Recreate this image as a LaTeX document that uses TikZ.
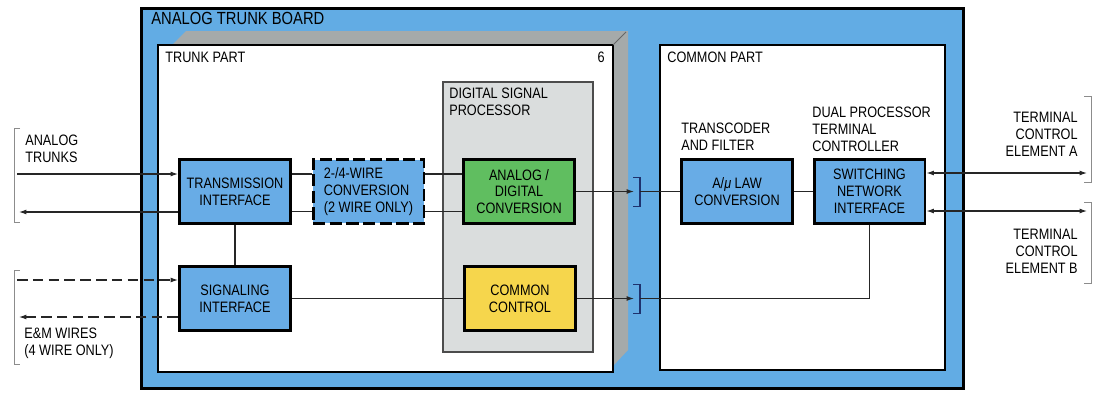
\documentclass[tikz,border=0pt]{standalone}
\usepackage{fontspec}
\setmainfont{Liberation Sans}[FakeStretch=0.84]
\usetikzlibrary{arrows.meta,positioning}

\definecolor{boardblue}{RGB}{98,172,228}
\definecolor{unitblue}{RGB}{104,172,230}
\definecolor{dspgray}{RGB}{218,221,221}
\definecolor{shadowgray}{RGB}{165,170,170}
\definecolor{adcgreen}{RGB}{96,190,96}
\definecolor{ctrlyellow}{RGB}{246,214,76}
\definecolor{plugblue}{RGB}{30,50,110}
\newcommand{\diagfont}{\fontsize{8.6}{9.6}\selectfont}

\begin{document}
\begin{tikzpicture}[
  x=0.02cm, y=-0.02cm,
  unit/.style={
    draw=black,
    line width=1.7pt,
    fill=unitblue,
    minimum width=2.22cm,
    minimum height=1.28cm,
    align=center,
    inner sep=1pt,
    font=\diagfont
  },
  dashed unit/.style={
    unit,
    dash pattern=on 7pt off 2.5pt
  },
  tag/.style={
    font=\diagfont,
    inner sep=0pt
  },
  link/.style={line width=0.6pt,draw=black!85},
  flow/.style={link,-{Latex[length=1.5mm,width=1.0mm]}},
  dual/.style={link,{Latex[length=1.5mm,width=1.0mm]}-{Latex[length=1.5mm,width=1.0mm]}},
  em flow/.style={flow,dash pattern=on 6pt off 3pt},
  brace/.style={line width=0.5pt,draw=black!45},
  plug/.style={line width=0.8pt,draw=plugblue}
]
  \useasboundingbox (0,0) rectangle (1101,392);

  % board and its parts
  \fill[boardblue] (141.5,8.5) rectangle (963.5,388.5);
  \draw[line width=1.7pt] (141.5,8.5) rectangle (963.5,388.5);
  \fill[shadowgray] (172,45) -- (186,31) -- (628,31) -- (628,350) -- (613,366) -- cycle;
  \draw[fill=white,line width=0.6pt] (158,45) rectangle (613,372);
  \draw[line width=0.5pt,black!60] (613,45) -- (626,32);
  \draw[fill=white,line width=0.6pt] (660,45) rectangle (945,370);
  \draw[fill=dspgray,draw=black!70,line width=0.6pt] (443,82) rectangle (593,352);

  \node[tag,anchor=north west,font=\fontsize{10}{11}\selectfont] (board-title) at (151,12)
    {ANALOG TRUNK BOARD};
  \node[tag,anchor=north west] (trunk-title) at (165,52) {TRUNK PART};
  \node[tag,anchor=north east] (trunk-number) at (605,52) {6};
  \node[tag,anchor=north west] (common-title) at (667,52) {COMMON PART};
  \node[tag,anchor=north west,align=left] (dsp-title) at (449,88)
    {DIGITAL SIGNAL\\PROCESSOR};

  % functional units
  \node[unit] (trans) at (235,191.5) {TRANSMISSION\\INTERFACE};
  \node[unit] (sig) at (235,298.5) {SIGNALING\\INTERFACE};
  \node[dashed unit,align=left] (conv) at (368.5,191.5)
    {2-/4-WIRE\\CONVERSION\\(2 WIRE ONLY)};
  \node[unit,fill=adcgreen] (adc) at (519,191.5) {ANALOG /\\DIGITAL\\CONVERSION};
  \node[unit,fill=ctrlyellow] (ctrl) at (520,298.5) {COMMON\\CONTROL};
  \node[unit] (law) at (737,191.5) {A/\textit{μ} LAW\\CONVERSION};
  \node[unit] (sni) at (869.5,191.5) {SWITCHING\\NETWORK\\INTERFACE};

  \node[tag,anchor=north west,align=left] (law-title) at (681,123)
    {TRANSCODER\\AND FILTER};
  \node[tag,anchor=north west,align=left] (sni-title) at (812,107)
    {DUAL PROCESSOR\\TERMINAL\\CONTROLLER};

  % outside lines
  \node[tag,anchor=north west,align=left] (trunks-tag) at (25,135) {ANALOG\\TRUNKS};
  \node[tag,anchor=north west,align=left] (em-tag) at (24,328) {E\&M WIRES\\(4 WIRE ONLY)};
  \node[tag,anchor=north east,align=right] (tce-a-tag) at (1078,112)
    {TERMINAL\\CONTROL\\ELEMENT A};
  \node[tag,anchor=north east,align=right] (tce-b-tag) at (1078,229)
    {TERMINAL\\CONTROL\\ELEMENT B};

  \draw[brace] (20,128) -- (14,128) -- (14,222) -- (20,222);
  \draw[brace] (20,270) -- (14,270) -- (14,364) -- (20,364);
  \draw[brace] (1084,96) -- (1091,96) -- (1091,182) -- (1084,182);
  \draw[brace] (1084,202) -- (1091,202) -- (1091,283) -- (1084,283);

  \coordinate (trunk-in) at (17,174);
  \coordinate (trunk-out) at (19,212);
  \coordinate (em-in) at (17,280);
  \coordinate (em-out) at (19,317);
  \coordinate (tce-a) at (1087,173);
  \coordinate (tce-b) at (1087,211);
  \coordinate (adc-plug) at (640,191.5);
  \coordinate (ctrl-plug) at (640,298.5);

  % connectors
  \draw[flow] (trunk-in) -- (trunk-in -| trans.west);
  \draw[flow] (trunk-out -| trans.west) -- (trunk-out);
  \draw[em flow] (em-in) -- (em-in -| sig.west);
  \draw[em flow] (em-out -| sig.west) -- (em-out);

  \draw[link] ([yshift=3.5mm]trans.east) -- ([yshift=3.5mm]conv.west);
  \draw[link] ([yshift=-4mm]trans.east) -- ([yshift=-4mm]conv.west);
  \draw[link] ([yshift=3.5mm]conv.east) -- ([yshift=3.5mm]adc.west);
  \draw[link] ([yshift=-4mm]conv.east) -- ([yshift=-4mm]adc.west);
  \draw[link] (trans.south) -- (sig.north);
  \draw[link] (sig.east) -- (ctrl.west);

  \foreach \p in {adc-plug,ctrl-plug}
    \draw[plug] ([shift={(-7,-14)}]\p) -- ([shift={(0,-14)}]\p)
      -- ([shift={(0,15)}]\p) -- ([shift={(-7,15)}]\p);
  \draw[flow] (adc.east) -- ([xshift=-0.12cm]adc-plug);
  \draw[flow] (ctrl.east) -- ([xshift=-0.12cm]ctrl-plug);
  \draw[link] (adc-plug) -- (adc-plug -| law.west);
  \draw[link] (ctrl-plug) -| (sni.south);
  \draw[link] (law.east) -- (sni.west);

  \draw[dual] (tce-a -| sni.east) -- (tce-a);
  \draw[dual] (tce-b -| sni.east) -- (tce-b);
\end{tikzpicture}
\end{document}
